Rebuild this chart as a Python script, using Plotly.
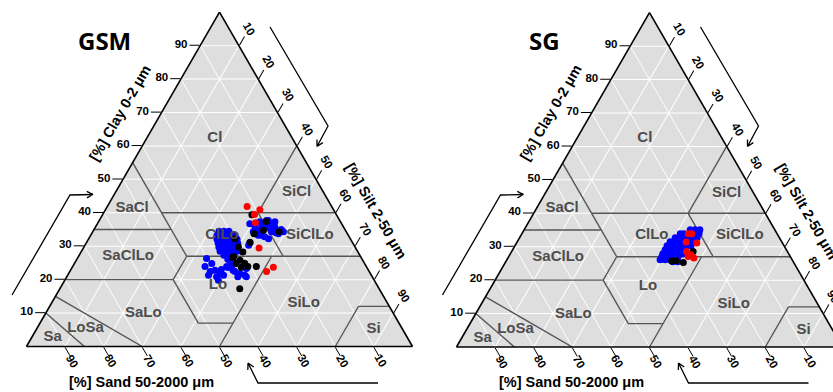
import math
import plotly.graph_objects as go

FIG_W, FIG_H = 850, 392
FONT = "Liberation Sans, Arial, sans-serif"

tick_vals = [10, 20, 30, 40, 50, 60, 70, 80, 90]

# USDA texture class labels: anchor position as (clay, silt) %, sand = rest
class_names = ["Cl", "SiCl", "SaCl", "ClLo", "SiClLo", "SaClLo",
               "Lo", "SiLo", "SaLo", "LoSa", "Sa", "Si"]
class_clay = [62.4, 46.0, 41.5, 33.4, 33.4, 26.9, 18.2, 12.8, 9.9, 5.4, 2.7, 5.1]
class_silt = [17.6, 47.0, 6.6, 33.9, 56.7, 12.9, 40.5, 65.4, 25.3, 12.6, 5.4, 87.4]

# class boundary polylines, vertices as (clay, sand, silt)
boundary_lines = [
    [(55, 45, 0), (27, 45, 28)],
    [(40, 45, 15), (40, 0, 60)],
    [(60, 0, 40), (40, 20, 40)],
    [(40, 20, 40), (27, 20, 53)],
    [(35, 65, 0), (35, 45, 20)],
    [(27, 45, 28), (27, 0, 73)],
    [(20, 80, 0), (20, 52, 28), (27, 45, 28)],
    [(20, 52, 28), (7, 52, 41), (7, 43, 50)],
    [(27, 23, 50), (0, 50, 50)],
    [(15, 85, 0), (0, 70, 30)],
    [(10, 90, 0), (0, 85, 15)],
    [(0, 20, 80), (12, 8, 80), (12, 0, 88)],
]

# ---- GSM samples (clay %, silt %) ----
gsm_red_clay = [41.9, 40.9, 39.5, 37.0, 29.5, 23.7, 22.4]
gsm_red_silt = [36.2, 40.0, 39.3, 40.8, 45.5, 52.1, 51.0]

gsm_black_clay = [39.4, 37.4, 34.3, 34.8, 33.7, 31.2, 29.8, 28.3, 26.9, 25.8,
                  23.7, 23.9, 23.9, 17.3, 32.2, 26.6, 24.9, 24.8]
gsm_black_silt = [38.7, 43.4, 48.3, 44.0, 42.1, 42.3, 40.0, 41.9, 40.2, 42.4,
                  43.8, 45.4, 47.6, 46.6, 37.9, 40.1, 44.1, 41.9]

gsm_blue_clay = [
    36.7, 35.8, 34.7, 35.8, 36.7, 35.8, 34.7, 34.3, 34.3, 33.3, 32.2, 31.0, 37.3,
    37.7, 33.7, 34.7, 33.7, 37.7, 34.3, 33.3, 32.8, 37.3, 35.0, 36.3, 34.0, 35.3,
    34.5, 34.5, 34.5,
    33.3, 33.3, 33.3, 33.3, 33.3,
    32.1, 32.1, 32.1, 32.1, 32.1, 32.1,
    30.9, 30.9, 30.9, 30.9, 30.9, 30.9,
    29.7, 29.7, 29.7, 29.7, 29.7,
    28.5, 28.5, 28.5, 28.5, 28.5,
    27.3, 27.3, 27.3,
    26.1, 26.1,
    26.3, 23.9, 22.4, 22.8, 21.8, 20.9, 23.9, 24.3, 22.4, 21.8, 21.3, 23.3,
    25.8, 24.8, 21.3, 21.3, 19.8, 20.9, 22.8, 23.0, 23.6, 20.9, 30.3,
]
gsm_blue_silt = [
    39.5, 41.3, 43.1, 43.9, 44.7, 46.4, 48.3, 49.4, 41.6, 44.2, 46.6, 42.4, 41.8,
    43.8, 42.7, 46.6, 48.4, 43.3, 46.3, 43.4, 45.3, 45.7, 48.5, 42.8, 47.6, 45.4,
    32.6, 33.9, 35.2,
    32.7, 33.7, 35.0, 36.3, 37.4,
    33.3, 34.3, 35.4, 36.4, 37.4, 38.5,
    34.2, 35.2, 36.2, 37.3, 38.3, 39.3,
    35.0, 36.1, 37.1, 38.1, 39.4,
    35.9, 36.9, 38.0, 39.2, 40.3,
    37.5, 38.8, 40.1,
    39.1, 40.4,
    33.5, 34.3, 36.4, 37.4, 39.3, 38.8, 39.9, 40.9, 42.8, 44.4, 45.9, 45.3,
    39.8, 35.6, 40.4, 36.5, 39.8, 44.3, 42.1, 39.0, 40.4, 46.5, 42.4,
]

# ---- SG samples (clay %, silt %) ----
sg_red_clay = [33.9, 33.9, 31.4, 31.1, 28.6, 27.1, 26.6, 27.6]
sg_red_silt = [43.1, 44.0, 43.8, 46.7, 45.3, 46.5, 48.2, 46.9]

sg_black_clay = [28.6, 25.3, 25.7, 25.8]
sg_black_silt = [47.0, 46.1, 42.9, 44.0]

sg_blue_clay = [
    35.1, 35.1, 35.1,
    33.9, 33.9, 33.9, 33.9,
    32.7, 32.7, 32.7, 32.7, 32.7, 32.7,
    31.5, 31.5, 31.5, 31.5, 31.5, 31.5,
    30.3, 30.3, 30.3, 30.3, 30.3, 30.3, 30.3,
    29.1, 29.1, 29.1, 29.1, 29.1, 29.1,
    27.9, 27.9, 27.9, 27.9, 27.9, 27.9,
    27.0, 27.0, 27.0, 27.0, 27.0,
    26.1, 26.1, 26.1, 26.1,
    25.5, 25.5,
]
sg_blue_silt = [
    43.0, 44.2, 45.5,
    41.0, 42.0, 44.8, 45.9,
    40.3, 41.3, 42.3, 43.9, 44.9, 46.0,
    39.6, 40.6, 41.6, 42.7, 44.7, 45.8,
    39.4, 40.4, 41.5, 42.5, 43.5, 44.6, 45.6,
    39.5, 40.5, 41.5, 42.6, 43.6, 44.6,
    39.5, 40.6, 41.6, 42.6, 43.7, 44.7,
    39.7, 40.8, 41.8, 42.8, 43.9,
    39.7, 41.0, 42.3, 43.5,
    43.3, 44.6,
]

panels = [
    dict(name="GSM", ternary="ternary", title_x=104,
         blue=(gsm_blue_clay, gsm_blue_silt),
         black=(gsm_black_clay, gsm_black_silt),
         red=(gsm_red_clay, gsm_red_silt)),
    dict(name="SG", ternary="ternary2", title_x=544,
         blue=(sg_blue_clay, sg_blue_silt),
         black=(sg_black_clay, sg_black_silt),
         red=(sg_red_clay, sg_red_silt)),
]

point_colors = {"blue": "#0000ff", "black": "#000000", "red": "#ff0000"}

fig = go.Figure()

for p in panels:
    sub = p["ternary"]
    for line in boundary_lines:
        fig.add_trace(go.Scatterternary(
            a=[v[0] for v in line], b=[v[1] for v in line], c=[v[2] for v in line],
            mode="lines", line=dict(color="#555555", width=1.4),
            subplot=sub, hoverinfo="skip", showlegend=False))
    for key in ["blue", "black", "red"]:
        clay, silt = p[key]
        fig.add_trace(go.Scatterternary(
            a=clay, b=[100 - a - c for a, c in zip(clay, silt)], c=silt,
            mode="markers",
            marker=dict(color=point_colors[key], size=7, line=dict(width=0)),
            subplot=sub, showlegend=False))
    fig.add_trace(go.Scatterternary(
        a=class_clay, b=[100 - a - c for a, c in zip(class_clay, class_silt)], c=class_silt,
        mode="text", text=class_names,
        textfont=dict(family=FONT, size=15, color="#4d4d4d", weight="bold"),
        subplot=sub, hoverinfo="skip", showlegend=False))


def axis_style(show_labels):
    return dict(
        tickmode="array", tickvals=tick_vals, ticktext=[str(v) for v in tick_vals],
        ticks="outside", ticklen=10, tickwidth=1.3, tickcolor="black",
        showticklabels=show_labels,
        tickfont=dict(family=FONT, size=11.5, color="black", weight="bold"),
        showline=True, linecolor="black", linewidth=1.6,
        showgrid=True, gridcolor="white", gridwidth=1,
        title=dict(text=""), min=0,
    )


def ternary_box(left_px, bottom_px, side_px):
    height = side_px * math.sqrt(3) / 2
    return dict(
        sum=100, bgcolor="#dedede",
        domain=dict(x=[left_px / FIG_W, (left_px + side_px) / FIG_W],
                    y=[(FIG_H - bottom_px) / FIG_H, (FIG_H - bottom_px + height) / FIG_H]),
        aaxis=axis_style(True), baxis=axis_style(False), caxis=axis_style(False),
    )


def P(x, y):
    return x / FIG_W, 1 - y / FIG_H


def arrow_path(points, head=7, spread=28):
    xs = [P(*pt) for pt in points]
    d = "M{:.5f},{:.5f}".format(*xs[0])
    for q in xs[1:]:
        d += " L{:.5f},{:.5f}".format(*q)
    (x1, y1), (x2, y2) = points[-2], points[-1]
    ang = math.atan2(y2 - y1, x2 - x1)
    for s in (-1, 1):
        a = ang + math.pi - s * math.radians(spread)
        hx, hy = x2 + head * math.cos(a), y2 + head * math.sin(a)
        d += " M{:.5f},{:.5f} L{:.5f},{:.5f}".format(*P(x2, y2), *P(hx, hy))
    return d


layouts = [(26.5, 346.5, 386), (456.5, 347.0, 386)]
offsets = [0.0, 430.5]

annotations = []
shapes = []
tick_font = dict(family=FONT, size=11.5, color="black", weight="bold")
title_font = dict(family=FONT, size=14.5, color="black", weight="bold")

for p, (lx, by, side), dx in zip(panels, layouts, offsets):
    x, y = P(p["title_x"], 41)
    annotations.append(dict(text=p["name"], x=x, y=y, xref="paper", yref="paper",
                            xanchor="center", yanchor="middle", showarrow=False,
                            font=dict(family="Open Sans, sans-serif", size=24,
                                      color="black", weight="bold")))
    for label, (ax_, ay_), ang in [("[%] Clay 0-2 μm", (120, 113), -60),
                                    ("[%] Silt 2-50 μm", (376, 211), 60),
                                    ("[%] Sand 50-2000 μm", (141, 382), 0)]:
        x, y = P(ax_ + dx, ay_)
        annotations.append(dict(text=label, x=x, y=y, xref="paper", yref="paper",
                                xanchor="center", yanchor="middle",
                                showarrow=False, textangle=ang, font=title_font))
    # rotated tick labels for the sand (bottom) and silt (right) axes
    h = side * math.sqrt(3) / 2
    for v in tick_vals:
        sx, sy = lx + (100 - v) / 100 * side, by
        x, y = P(sx + 7, sy + 14.5)
        annotations.append(dict(text=str(v), x=x, y=y, xref="paper", yref="paper",
                                xanchor="center", yanchor="middle", showarrow=False,
                                textangle=60, font=tick_font))
        cx = lx + (100 - v) / 100 * side / 2 + v / 100 * side
        cy = by - (100 - v) / 100 * h
        x, y = P(cx + 10.5, cy - 17)
        annotations.append(dict(text=str(v), x=x, y=y, xref="paper", yref="paper",
                                xanchor="center", yanchor="middle", showarrow=False,
                                textangle=60, font=tick_font))
    for pts in [[(12, 295), (70, 195), (93, 194.5)],
                [(270, 27), (328, 126), (317, 146.5)],
                [(378, 383), (258, 383), (248, 363)]]:
        moved = [(px + dx, py) for px, py in pts]
        shapes.append(dict(type="path", path=arrow_path(moved), xref="paper", yref="paper",
                           line=dict(color="black", width=1.3)))

fig.update_layout(
    width=FIG_W, height=FIG_H,
    margin=dict(l=0, r=0, t=0, b=0),
    paper_bgcolor="white",
    showlegend=False,
    ternary=ternary_box(*layouts[0]),
    ternary2=ternary_box(*layouts[1]),
    annotations=annotations,
    shapes=shapes,
)

fig.write_html(
    "out.html",
    post_script="document.documentElement.style.overflow='hidden';"
                "document.body.style.overflow='hidden';document.body.style.margin='0';",
)
